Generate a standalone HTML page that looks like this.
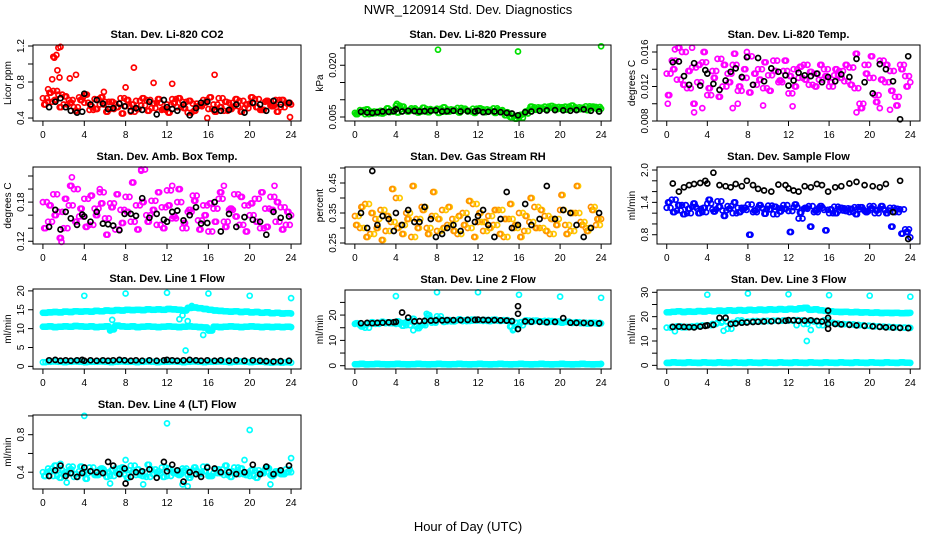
<!DOCTYPE html>
<html><head><meta charset="utf-8">
<style>
html,body{margin:0;padding:0;background:#fff;}
svg{display:block;font-family:"Liberation Sans",Arial,sans-serif;}
</style></head>
<body>
<svg id="chart" width="936" height="540" viewBox="0 0 936 540" xmlns="http://www.w3.org/2000/svg">
<rect x="0" y="0" width="936" height="540" fill="#fff"/>
<text x="468" y="14" text-anchor="middle" font-size="13">NWR_120914  Std. Dev. Diagnostics</text>
<text x="468" y="531" text-anchor="middle" font-size="13">Hour of Day (UTC)</text>
<g id="panels"></g>
</svg>
<script>
// shared hour grids
const hoursA = [0,0.5,1,1.5,2,2.5,3,3.5,4,4.5,5,5.5,6,6.5,7,7.5,8,8.5,9,9.5,10,10.5,11,11.5,12,12.5,13,13.5,14,14.5,15,15.5,16,16.5,17,17.5,18,18.5,19,19.5,20,20.5,21,21.5,22,22.5,23,23.5,24];
const hoursB = [0.25,0.75,1.25,1.75,2.25,2.75,3.25,3.75,4.25,4.75,5.25,5.75,6.25,6.75,7.25,7.75,8.25,8.75,9.25,9.75,10.25,10.75,11.25,11.75,12.25,12.75,13.25,13.75,14.25,14.75,15.25,15.75,16.25,16.75,17.25,17.75,18.25,18.75,19.25,19.75,20.25,20.75,21.25,21.75,22.25,22.75,23.25,23.75];
const hoursC = [0.125,0.625,1.125,1.625,2.125,2.625,3.125,3.625,4.125,4.625,5.125,5.625,6.125,6.625,7.125,7.625,8.125,8.625,9.125,9.625,10.125,10.625,11.125,11.625,12.125,12.625,13.125,13.625,14.125,14.625,15.125,15.625,16.125,16.625,17.125,17.625,18.125,18.625,19.125,19.625,20.125,20.625,21.125,21.625,22.125,22.625,23.125,23.625];
const hoursD = [0.375,0.875,1.375,1.875,2.375,2.875,3.375,3.875,4.375,4.875,5.375,5.875,6.375,6.875,7.375,7.875,8.375,8.875,9.375,9.875,10.375,10.875,11.375,11.875,12.375,12.875,13.375,13.875,14.375,14.875,15.375,15.875,16.375,16.875,17.375,17.875,18.375,18.875,19.375,19.875,20.375,20.875,21.375,21.875,22.375,22.875,23.375,23.875];
const hoursK = [0.6,1.2,1.7,2.2,2.7,3.3,3.8,4.0,4.6,5.2,5.8,6.3,6.8,7.4,7.9,8.5,9.0,9.6,10.3,11.0,11.7,12.0,12.5,13.0,13.6,14.2,14.8,15.3,15.9,16.6,17.2,18.0,18.7,19.5,20.3,21.0,21.6,22.3,23.0,23.8];
const xTicks = [0,4,8,12,16,20,24];

// Panel 1 CO2
const co2A = [0.62,0.58,0.70,0.66,0.55,0.60,0.52,0.63,0.57,0.49,0.61,0.55,0.58,0.50,0.56,0.62,0.53,0.47,0.59,0.54,0.60,0.51,0.57,0.49,0.55,0.61,0.52,0.58,0.46,0.56,0.53,0.60,0.50,0.55,0.62,0.48,0.57,0.53,0.59,0.51,0.56,0.61,0.49,0.58,0.54,0.60,0.52,0.57,0.55];
const co2B = [0.55,0.68,0.60,0.52,0.64,0.57,0.48,0.60,0.66,0.53,0.50,0.63,0.47,0.58,0.52,0.45,0.60,0.55,0.50,0.62,0.48,0.56,0.61,0.50,0.46,0.57,0.62,0.51,0.59,0.48,0.54,0.57,0.63,0.47,0.52,0.58,0.50,0.61,0.47,0.55,0.63,0.52,0.49,0.59,0.53,0.47,0.60,0.56];
const co2K = [0.52,0.58,0.62,0.52,0.48,0.46,0.47,0.67,0.55,0.60,0.56,0.50,0.51,0.56,0.53,0.48,0.51,0.49,0.58,0.44,0.60,0.52,0.50,0.48,0.55,0.43,0.51,0.57,0.58,0.49,0.48,0.49,0.55,0.46,0.57,0.55,0.48,0.59,0.55,0.57];
const co2OutX = [1.0,1.3,1.5,1.7,0.9,1.6,3.2,2.6,8.8,10.7,12.5,16.6,0.5,1.4,5.9,23.9,15.9,8.0,1.1];
const co2OutY = [1.08,1.10,1.18,1.19,0.83,0.85,0.88,0.84,0.96,0.79,0.78,0.88,0.72,0.93,0.69,0.41,0.40,0.74,1.07];

// Panel 2 pressure
const presA = [0.0062,0.0070,0.0058,0.0066,0.0061,0.0068,0.0064,0.0070,0.0083,0.0072,0.0068,0.0075,0.0070,0.0066,0.0073,0.0069,0.0074,0.0065,0.0072,0.0068,0.0076,0.0070,0.0066,0.0074,0.0069,0.0072,0.0067,0.0075,0.0070,0.0064,0.0058,0.0052,0.0048,0.0060,0.0072,0.0078,0.0074,0.0080,0.0076,0.0079,0.0074,0.0080,0.0075,0.0078,0.0073,0.0081,0.0076,0.0079,0.0074];
const presB = [0.0058,0.0064,0.0072,0.0060,0.0065,0.0060,0.0075,0.0066,0.0063,0.0080,0.0066,0.0071,0.0063,0.0077,0.0064,0.0070,0.0062,0.0078,0.0066,0.0071,0.0063,0.0074,0.0068,0.0062,0.0075,0.0064,0.0070,0.0062,0.0068,0.0055,0.0050,0.0045,0.0056,0.0066,0.0080,0.0071,0.0077,0.0072,0.0082,0.0073,0.0078,0.0071,0.0083,0.0072,0.0077,0.0070,0.0080,0.0073];
const presK = [0.0065,0.0063,0.0062,0.0064,0.0066,0.0065,0.0067,0.0072,0.0066,0.0068,0.0067,0.0066,0.0067,0.0068,0.0069,0.0066,0.0067,0.0068,0.0066,0.0067,0.0066,0.0068,0.0064,0.0065,0.0066,0.0064,0.0062,0.0060,0.0055,0.0064,0.0066,0.0068,0.0069,0.0070,0.0069,0.0068,0.0070,0.0072,0.0068,0.0066];
const presOutX = [8.1,15.9,24.0,4.1];
const presOutY = [0.0245,0.0240,0.0255,0.0088];

// Panel 3 Li-820 temp
const ltA = [0.0135,0.0150,0.0128,0.0160,0.0118,0.0142,0.0125,0.0148,0.0110,0.0138,0.0152,0.0120,0.0135,0.0145,0.0115,0.0130,0.0155,0.0122,0.0140,0.0118,0.0133,0.0150,0.0125,0.0138,0.0112,0.0140,0.0130,0.0145,0.0122,0.0135,0.0128,0.0140,0.0120,0.0133,0.0138,0.0126,0.0142,0.0118,0.0100,0.0145,0.0130,0.0110,0.0150,0.0125,0.0138,0.0108,0.0145,0.0132,0.0125];
const ltB = [0.0110,0.0140,0.0165,0.0122,0.0138,0.0100,0.0145,0.0160,0.0118,0.0130,0.0108,0.0145,0.0125,0.0158,0.0120,0.0140,0.0113,0.0135,0.0128,0.0148,0.0115,0.0138,0.0127,0.0150,0.0132,0.0120,0.0143,0.0128,0.0137,0.0120,0.0145,0.0132,0.0125,0.0140,0.0130,0.0145,0.0122,0.0158,0.0095,0.0135,0.0155,0.0102,0.0128,0.0145,0.0115,0.0098,0.0140,0.0120];
const ltK = [0.0148,0.0149,0.0132,0.0122,0.0147,0.0121,0.0139,0.0135,0.0123,0.0116,0.0127,0.0137,0.0141,0.0131,0.0154,0.0122,0.0153,0.0126,0.0141,0.0137,0.0133,0.0121,0.0127,0.0136,0.0133,0.0132,0.0135,0.0125,0.0131,0.0126,0.0134,0.0131,0.0152,0.0125,0.0112,0.0146,0.0140,0.0126,0.0082,0.0155];
const ltOutX = [1.2,2.5,0.1,3.5,2.7,6.5,7.0,22.0,18.7,21.0,12.4,9.5,0.8,7.9];
const ltOutY = [0.0165,0.0165,0.0100,0.0095,0.0090,0.0095,0.0100,0.0093,0.0090,0.0095,0.0097,0.0098,0.0163,0.0160];

// Panel 4 amb box temp
const abA = [0.180,0.150,0.192,0.165,0.140,0.175,0.200,0.158,0.185,0.145,0.170,0.195,0.155,0.178,0.138,0.168,0.188,0.150,0.175,0.230,0.160,0.182,0.145,0.172,0.198,0.155,0.180,0.140,0.165,0.190,0.152,0.175,0.135,0.170,0.185,0.150,0.168,0.192,0.145,0.175,0.160,0.185,0.140,0.170,0.188,0.150,0.172,0.145,0.160];
const abB = [0.140,0.175,0.160,0.125,0.185,0.205,0.150,0.170,0.142,0.190,0.160,0.178,0.130,0.172,0.192,0.148,0.165,0.210,0.138,0.180,0.150,0.168,0.195,0.140,0.175,0.158,0.200,0.148,0.168,0.182,0.138,0.160,0.178,0.150,0.195,0.142,0.170,0.158,0.188,0.135,0.178,0.150,0.195,0.142,0.168,0.180,0.138,0.165];
const abK = [0.142,0.168,0.138,0.165,0.155,0.145,0.161,0.158,0.150,0.165,0.147,0.146,0.144,0.137,0.162,0.162,0.159,0.186,0.156,0.162,0.153,0.150,0.165,0.167,0.152,0.160,0.172,0.147,0.148,0.180,0.135,0.162,0.142,0.157,0.153,0.150,0.130,0.165,0.156,0.158];
const abOutX = [9.5,2.8,1.8,12.5,22.4,5.5,17.5];
const abOutY = [0.228,0.218,0.119,0.205,0.205,0.200,0.205];

// Panel 5 gas stream RH
const rhA = [0.34,0.30,0.38,0.28,0.33,0.36,0.29,0.32,0.40,0.31,0.35,0.27,0.33,0.37,0.30,0.34,0.29,0.36,0.31,0.33,0.28,0.35,0.30,0.38,0.32,0.29,0.34,0.31,0.36,0.27,0.33,0.30,0.35,0.29,0.32,0.37,0.30,0.34,0.28,0.33,0.36,0.31,0.29,0.35,0.32,0.30,0.37,0.31,0.33];
const rhB = [0.31,0.37,0.27,0.35,0.30,0.26,0.34,0.43,0.30,0.28,0.33,0.44,0.30,0.36,0.28,0.42,0.33,0.30,0.37,0.29,0.34,0.31,0.39,0.27,0.35,0.32,0.30,0.36,0.28,0.33,0.38,0.31,0.27,0.34,0.40,0.30,0.36,0.29,0.33,0.31,0.41,0.28,0.35,0.44,0.31,0.29,0.36,0.33];
const rhK = [0.35,0.30,0.49,0.31,0.34,0.33,0.29,0.35,0.31,0.36,0.32,0.32,0.37,0.33,0.27,0.28,0.30,0.31,0.29,0.33,0.32,0.34,0.36,0.31,0.27,0.33,0.42,0.30,0.31,0.38,0.31,0.33,0.44,0.33,0.36,0.35,0.31,0.27,0.30,0.35];

// Panel 6 sample flow
const sfA = [1.30,1.45,1.25,1.35,1.20,1.32,1.28,1.22,1.38,1.27,1.42,1.25,1.33,1.20,1.30,1.26,1.36,1.22,1.30,1.28,1.34,1.18,1.29,1.35,1.24,1.31,1.10,1.28,1.33,1.22,1.30,1.26,1.20,1.32,1.25,1.29,1.22,1.31,1.27,1.24,1.33,1.20,1.28,1.25,1.30,1.22,1.27,0.90,0.75];
const sfB = [1.40,1.22,1.35,1.18,1.28,1.38,1.20,1.30,1.45,1.23,1.32,1.15,1.28,1.40,1.22,1.30,0.80,1.25,1.35,1.19,1.27,1.32,1.23,1.28,0.85,1.36,1.21,1.30,0.95,1.25,1.33,0.88,1.27,1.20,1.30,1.24,1.28,1.18,1.31,1.22,1.29,1.25,1.33,1.20,0.95,1.28,0.82,0.85];
const sfK = [1.75,1.60,1.68,1.72,1.74,1.76,1.80,1.75,1.95,1.72,1.70,1.68,1.74,1.70,1.80,1.72,1.65,1.62,1.60,1.73,1.72,1.66,1.62,1.60,1.70,1.68,1.74,1.72,1.60,1.68,1.70,1.75,1.78,1.72,1.70,1.68,1.74,1.22,1.80,0.72];

// Panel 7 line 1 flow
const l1Upper = [14.2,14.3,14.4,14.3,14.5,14.4,14.6,14.5,14.6,14.5,14.7,14.6,14.8,14.7,14.9,14.8,15.0,14.9,15.0,14.9,15.1,15.0,15.1,15.0,15.2,15.1,15.0,14.8,15.5,15.6,15.4,15.2,15.0,14.8,14.7,14.6,14.5,14.6,14.4,14.5,14.3,14.4,14.2,14.3,14.1,14.2,14.0,14.1,14.0];
const l1Lower = [10.5,10.6,10.4,10.5,10.6,10.5,10.7,10.6,10.5,10.6,10.4,10.5,10.6,9.8,10.8,10.6,10.5,10.6,10.4,10.5,10.6,10.5,10.4,10.5,10.6,10.5,10.4,10.5,10.6,10.5,10.4,10.3,9.5,10.5,10.4,10.5,10.6,10.5,10.4,10.5,10.6,10.5,10.4,10.5,10.4,10.5,10.4,10.5,10.4];
const l1Base = [1.1,1.2,1.3,1.2,1.1,1.2,1.3,1.2,1.1,1.2,1.2,1.3,1.2,1.1,1.2,1.3,1.2,1.2,1.1,1.2,1.3,1.2,1.1,1.2,1.2,1.3,1.2,1.1,1.2,1.3,1.2,1.1,1.2,1.2,1.3,1.2,1.1,1.2,1.3,1.2,1.1,1.2,1.2,1.1,1.0,1.1,1.0,1.1,1.0];
const l1K = [1.6,1.7,1.5,1.6,1.5,1.6,1.7,1.5,1.6,1.5,1.6,1.5,1.6,1.7,1.6,1.5,1.6,1.5,1.6,1.5,1.6,1.7,1.6,1.5,1.6,1.7,1.6,1.5,1.6,1.5,1.6,1.5,1.6,1.5,1.6,1.5,1.4,1.3,1.4,1.5];
const l1OutX = [4,8,12,16,20,24,13.8,15.5,13.2,6.7,13.5,14.0,6.5,14.4];
const l1OutY = [18.7,19.3,19.5,19.3,18.7,18.1,4.2,8.3,12.5,12.3,13.5,12.0,9.5,16.0];

// Panel 8 line 2 flow
const l2A = [16.5,16.0,15.0,16.8,16.5,17.0,16.8,17.2,16.5,17.0,16.0,17.5,15.5,16.0,18.5,17.0,19.5,18.0,17.5,17.8,18.0,17.6,18.2,17.8,18.0,17.7,18.1,17.8,17.9,18.0,17.6,14.5,16.0,17.5,17.8,17.6,17.4,17.7,17.3,17.5,17.2,17.4,17.0,17.2,16.8,17.0,16.8,16.9,16.7];
const l2B = [16.8,15.5,16.5,17.2,16.9,17.4,17.1,16.8,17.5,15.8,17.5,18.5,14.8,16.5,20.0,17.5,18.5,17.3,18.0,17.5,18.3,17.9,17.7,18.2,17.9,18.0,17.6,18.2,17.7,17.8,15.5,17.0,17.2,17.9,17.3,17.8,17.5,17.1,17.6,17.3,17.0,17.3,16.9,17.1,16.9,16.6,17.0,16.6];
const l2Base = [0.6,0.7,0.5,0.6,0.7,0.6,0.5,0.6,0.7,0.6,0.5,0.6,0.7,0.6,0.5,0.6,0.7,0.6,0.5,0.6,0.7,0.6,0.5,0.6,0.7,0.6,0.5,0.6,0.7,0.6,0.5,0.6,0.7,0.6,0.5,0.6,0.7,0.6,0.5,0.6,0.7,0.6,0.5,0.6,0.7,0.6,0.5,0.6,0.7];
const l2K = [16.8,16.9,16.8,16.9,17.0,17.1,17.2,17.3,21.0,19.0,17.5,17.6,17.7,17.8,17.9,17.9,18.0,18.0,18.0,18.1,18.1,18.2,18.1,18.0,18.0,17.9,17.8,17.6,20.5,17.5,17.4,17.3,17.2,17.3,18.8,17.0,16.9,16.9,16.8,16.7];
const l2OutX = [4,8,12,16,20,24,5.7,15.4,7.0];
const l2OutY = [27.5,29,29,28,27.3,26.8,14,14,20.5];
const l2KOutX = [15.9,15.9];
const l2KOutY = [23.5,14.5];

// Panel 9 line 3 flow
const l3Top = [21.8,22.0,22.2,21.9,22.1,22.0,22.3,22.1,22.4,22.2,22.5,22.3,22.6,22.4,22.7,22.5,22.8,22.6,22.9,22.7,23.0,22.8,23.1,22.9,23.2,23.0,23.4,23.6,22.8,23.0,22.6,22.4,22.2,22.0,21.9,22.0,21.8,21.9,21.7,21.8,21.6,21.7,21.5,21.6,21.5,21.6,21.4,21.5,21.6];
const l3Mid = [15.5,15.8,16.0,15.6,15.8,16.0,16.2,16.4,16.5,17.0,17.5,18.0,15.0,17.5,18.5,17.8,18.0,18.2,18.1,18.3,18.2,18.4,18.3,18.5,18.4,18.6,18.5,17.0,18.3,18.0,16.5,18.5,17.5,17.2,17.0,16.9,16.8,16.6,16.5,16.3,16.2,16.0,15.9,15.8,15.7,15.6,15.5,15.5,15.4];
const l3Base = [1.0,1.2,1.1,1.0,1.2,1.1,1.0,1.2,1.1,1.0,1.2,1.1,1.0,1.2,1.1,1.0,1.2,1.1,1.0,1.2,1.1,1.0,1.2,1.1,1.0,1.2,1.1,1.0,1.2,1.1,1.0,1.2,1.1,1.0,1.2,1.1,1.0,1.2,1.1,1.0,1.2,1.1,1.0,1.2,1.1,1.0,1.2,1.1,1.0];
const l3K = [15.8,15.9,15.8,15.7,15.6,15.9,16.2,16.4,16.6,19.5,19.5,17.0,17.2,17.5,17.6,17.8,17.9,18.0,18.1,18.2,18.3,18.6,18.5,18.3,18.4,18.5,18.2,18.0,22.5,17.0,16.8,16.6,16.4,16.2,16.0,15.8,15.6,15.5,15.4,15.3];
const l3OutX = [4,8,12,16,20,24,13.8,0.8,5.6,14.2,12.8];
const l3OutY = [29,29.5,29.2,28.8,28.6,28.2,10,14,14.2,14.5,16.5];
const l3KOutX = [15.9,15.9,15.9];
const l3KOutY = [19.5,15.0,17.0];

// Panel 10 line 4 flow
const l4A = [0.40,0.44,0.36,0.42,0.38,0.46,0.35,0.41,0.39,0.45,0.37,0.43,0.40,0.36,0.44,0.38,0.42,0.47,0.37,0.40,0.35,0.43,0.39,0.45,0.36,0.41,0.38,0.44,0.37,0.42,0.40,0.46,0.36,0.39,0.43,0.37,0.41,0.45,0.38,0.40,0.36,0.42,0.39,0.44,0.37,0.41,0.38,0.43,0.40];
const l4B = [0.36,0.41,0.47,0.34,0.40,0.43,0.38,0.46,0.33,0.41,0.37,0.44,0.35,0.42,0.39,0.45,0.34,0.40,0.43,0.36,0.48,0.38,0.41,0.35,0.44,0.39,0.37,0.42,0.34,0.45,0.38,0.41,0.36,0.43,0.39,0.47,0.35,0.40,0.44,0.37,0.42,0.34,0.39,0.45,0.36,0.41,0.38,0.40];
const l4K = [0.36,0.42,0.47,0.36,0.39,0.35,0.39,0.45,0.41,0.40,0.39,0.51,0.47,0.38,0.44,0.35,0.40,0.41,0.43,0.34,0.51,0.41,0.48,0.42,0.30,0.40,0.38,0.35,0.45,0.44,0.40,0.40,0.38,0.40,0.48,0.38,0.46,0.38,0.42,0.47];
const l4OutX = [4,12,20,24,8,14,13.5,9.7,2.3,6.5,22,19.5,1.7];
const l4OutY = [1.0,0.92,0.85,0.55,0.53,0.25,0.27,0.27,0.29,0.28,0.27,0.53,0.49];
const l4KOutX = [8.0];
const l4KOutY = [0.28];

const NS = "http://www.w3.org/2000/svg";
const root = document.getElementById('panels');

function mk(tag, attrs, parent){
  const e = document.createElementNS(NS, tag);
  for (const k in attrs) e.setAttribute(k, attrs[k]);
  parent.appendChild(e);
  return e;
}

const panels = [
 {name:'co2', title:'Stan. Dev. Li-820 CO2', ylab:'Licor ppm', L:33,R:301,T:45,B:121, lo:0.367,hi:1.211, ticks:[0.4,0.6,0.8,1.0,1.2], labels:[0.4,0.8,1.2], dec:1,
  series:[[hoursA,co2A,'#ff0000'],[hoursB,co2B,'#ff0000'],[hoursC,co2B,'#ff0000'],[hoursD,co2A,'#ff0000'],[co2OutX,co2OutY,'#ff0000'],[hoursK,co2K,'#000000']]},
 {name:'pressure', title:'Stan. Dev. Li-820 Pressure', ylab:'kPa', L:345,R:611,T:45,B:121, lo:0.00384,hi:0.02587, ticks:[0.005,0.010,0.015,0.020,0.025], labels:[0.005,0.020], dec:3,
  series:[[hoursA,presA,'#00e000'],[hoursB,presB,'#00e000'],[hoursC,presB,'#00e000'],[hoursD,presA,'#00e000'],[presOutX,presOutY,'#00e000'],[hoursK,presK,'#000000']]},
 {name:'li820-temp', title:'Stan. Dev. Li-820 Temp.', ylab:'degrees C', L:657,R:920,T:45,B:121, lo:0.008,hi:0.01681, ticks:[0.008,0.010,0.012,0.014,0.016], labels:[0.008,0.012,0.016], dec:3,
  series:[[hoursA,ltA,'#ff00ff'],[hoursB,ltB,'#ff00ff'],[hoursC,ltB,'#ff00ff'],[hoursD,ltA,'#ff00ff'],[ltOutX,ltOutY,'#ff00ff'],[hoursK,ltK,'#000000']]},
 {name:'amb-box-temp', title:'Stan. Dev. Amb. Box Temp.', ylab:'degrees C', L:33,R:301,T:167,B:244, lo:0.1158,hi:0.2338, ticks:[0.12,0.14,0.16,0.18,0.20,0.22], labels:[0.12,0.18], dec:2,
  series:[[hoursA,abA,'#ff00ff'],[hoursB,abB,'#ff00ff'],[hoursC,abB,'#ff00ff'],[hoursD,abA,'#ff00ff'],[abOutX,abOutY,'#ff00ff'],[hoursK,abK,'#000000']]},
 {name:'gas-stream-rh', title:'Stan. Dev. Gas Stream RH', ylab:'percent', L:345,R:611,T:167,B:244, lo:0.2467,hi:0.5033, ticks:[0.25,0.30,0.35,0.40,0.45,0.50], labels:[0.25,0.35,0.45], dec:2,
  series:[[hoursA,rhA,'#ff9000'],[hoursB,rhB,'#ffc800'],[hoursC,rhB,'#ff9000'],[hoursD,rhA,'#ffc800'],[hoursK,rhK,'#000000']]},
 {name:'sample-flow', title:'Stan. Dev. Sample Flow', ylab:'ml/min', L:657,R:920,T:167,B:244, lo:0.628,hi:2.056, ticks:[0.8,1.0,1.2,1.4,1.6,1.8,2.0], labels:[0.8,1.4,2.0], dec:1,
  series:[[hoursA,sfA,'#0000ff'],[hoursB,sfB,'#0000ff'],[hoursC,sfB,'#0000ff'],[hoursD,sfA,'#0000ff'],[hoursK,sfK,'#000000']]},
 {name:'line1-flow', title:'Stan. Dev. Line 1 Flow', ylab:'ml/min', L:33,R:301,T:289,B:369, lo:-0.7,hi:20.5, ticks:[0,5,10,15,20], labels:[0,5,10,15,20], dec:0,
  series:[[hoursA,l1Upper,'#00ffff'],[hoursB,l1Upper,'#00ffff'],[hoursC,l1Upper,'#00ffff'],[hoursD,l1Upper,'#00ffff'],[hoursA,l1Lower,'#00ffff'],[hoursB,l1Lower,'#00ffff'],[hoursC,l1Lower,'#00ffff'],[hoursD,l1Lower,'#00ffff'],[hoursA,l1Base,'#00ffff'],[hoursB,l1Base,'#00ffff'],[l1OutX,l1OutY,'#00ffff'],[hoursK,l1K,'#000000']]},
 {name:'line2-flow', title:'Stan. Dev. Line 2 Flow', ylab:'ml/min', L:345,R:611,T:290,B:369, lo:-1.3,hi:29.9, ticks:[0,5,10,15,20,25], labels:[0,10,20], dec:0,
  series:[[hoursA,l2A,'#00ffff'],[hoursB,l2B,'#00ffff'],[hoursC,l2B,'#00ffff'],[hoursD,l2A,'#00ffff'],[hoursA,l2Base,'#00ffff'],[hoursB,l2Base,'#00ffff'],[hoursC,l2Base,'#00ffff'],[hoursD,l2Base,'#00ffff'],[l2OutX,l2OutY,'#00ffff'],[hoursK,l2K,'#000000'],[l2KOutX,l2KOutY,'#000000']]},
 {name:'line3-flow', title:'Stan. Dev. Line 3 Flow', ylab:'ml/min', L:657,R:920,T:290,B:369, lo:-1.5,hi:30.95, ticks:[0,5,10,15,20,25,30], labels:[0,10,20,30], dec:0,
  series:[[hoursA,l3Top,'#00ffff'],[hoursB,l3Top,'#00ffff'],[hoursC,l3Top,'#00ffff'],[hoursD,l3Top,'#00ffff'],[hoursA,l3Mid,'#00ffff'],[hoursD,l3Mid,'#00ffff'],[hoursA,l3Base,'#00ffff'],[hoursB,l3Base,'#00ffff'],[hoursC,l3Base,'#00ffff'],[hoursD,l3Base,'#00ffff'],[l3OutX,l3OutY,'#00ffff'],[hoursK,l3K,'#000000'],[l3KOutX,l3KOutY,'#000000']]},
 {name:'line4-flow', title:'Stan. Dev. Line 4 (LT) Flow', ylab:'ml/min', L:33,R:301,T:415,B:489, lo:0.221,hi:1.01, ticks:[0.4,0.6,0.8,1.0], labels:[0.4,0.8], dec:1,
  series:[[hoursA,l4A,'#00ffff'],[hoursB,l4B,'#00ffff'],[hoursC,l4B,'#00ffff'],[hoursD,l4A,'#00ffff'],[l4OutX,l4OutY,'#00ffff'],[hoursK,l4K,'#000000'],[l4KOutX,l4KOutY,'#000000']]}
];

panels.forEach(function(p){
  const g = mk('g', {}, root);
  
  
  const xs = function(h){ return p.L + (h + 0.96) / 25.92 * (p.R - p.L); };
  const ys = function(v){ return p.B - (v - p.lo) / (p.hi - p.lo) * (p.B - p.T); };
  const cx = (p.L + p.R) / 2;
  const t = mk('text', {x:cx, y:p.T-7, 'text-anchor':'middle', 'font-size':'11', 'font-weight':'bold'}, g);
  t.textContent = p.title;
  
  
  const pts = mk('g', {fill:'none', 'stroke-width':'1.7'}, g);
  
  
  p.series.forEach(function(s){
    const hx = s[0], vy = s[1];
    for (let i = 0; i < vy.length && i < hx.length; i++){
      const c = mk('circle', {cx:xs(hx[i]).toFixed(1), cy:ys(vy[i]).toFixed(1), r:'2.5', stroke:s[2]}, pts);
      
      
    }
  });
  const box = mk('rect', {x:p.L, y:p.T, width:p.R-p.L, height:p.B-p.T, fill:'none', stroke:'#000', 'stroke-width':'1'}, g);
  
  
  const xa = mk('g', {stroke:'#000','stroke-width':'1'}, g);
  
  
  mk('line', {x1:xs(0), x2:xs(24), y1:p.B, y2:p.B}, xa);
  xTicks.forEach(function(h){
    mk('line', {x1:xs(h), x2:xs(h), y1:p.B, y2:p.B+5}, xa);
    const tl = mk('text', {x:xs(h), y:p.B+17, 'text-anchor':'middle', 'font-size':'10', stroke:'none', fill:'#000'}, xa);
    tl.textContent = String(h);
    
    
  });
  const ya = mk('g', {stroke:'#000','stroke-width':'1'}, g);
  
  
  mk('line', {x1:p.L, x2:p.L, y1:ys(p.ticks[0]), y2:ys(p.ticks[p.ticks.length-1])}, ya);
  p.ticks.forEach(function(v){
    mk('line', {x1:p.L-5, x2:p.L, y1:ys(v), y2:ys(v)}, ya);
  });
  p.labels.forEach(function(v){
    const y = ys(v), x = p.L - 9;
    const tl = mk('text', {x:x, y:y, 'text-anchor':'middle', 'font-size':'10', stroke:'none', fill:'#000', transform:'rotate(-90 '+x+' '+y+')'}, ya);
    tl.textContent = v.toFixed(p.dec);
    
    
  });
  const lx = p.L - 22, ly = (p.T + p.B) / 2;
  const yl = mk('text', {x:lx, y:ly, 'text-anchor':'middle', 'font-size':'10', transform:'rotate(-90 '+lx+' '+ly+')'}, g);
  yl.textContent = p.ylab;
  
  
});
</script>
</body></html>
